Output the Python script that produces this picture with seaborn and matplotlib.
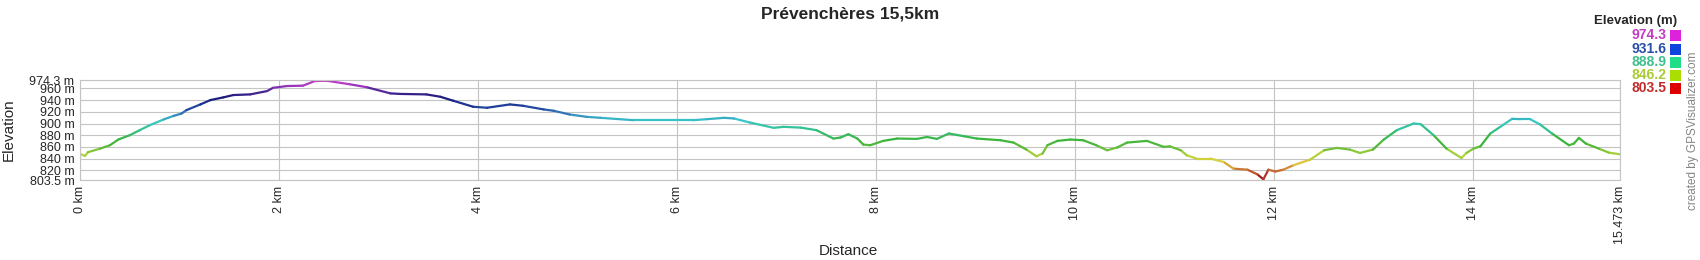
import numpy as np
import pandas as pd
import matplotlib
matplotlib.use("Agg")
import matplotlib.pyplot as plt
from matplotlib.colors import LinearSegmentedColormap
from matplotlib.patches import Rectangle
import seaborn as sns

# ---- data ----
distance_km = [0.00, 0.05, 0.08, 0.20, 0.30, 0.385, 0.50, 0.60, 0.70, 0.84, 0.94, 1.02, 1.07, 1.21,
               1.31, 1.44, 1.54, 1.71, 1.88, 1.94, 2.08, 2.24, 2.36, 2.48, 2.71, 2.88, 3.12, 3.22,
               3.48, 3.62, 3.75, 3.95, 4.09, 4.32, 4.45, 4.66, 4.76, 4.92, 5.09, 5.23, 5.56, 5.90,
               6.16, 6.30, 6.47, 6.57, 6.73, 6.97, 7.07, 7.24, 7.40, 7.57, 7.64, 7.72, 7.81, 7.87,
               7.94, 8.07, 8.21, 8.41, 8.51, 8.61, 8.73, 8.88, 9.01, 9.25, 9.38, 9.51, 9.61, 9.67,
               9.72, 9.82, 9.95, 10.08, 10.21, 10.32, 10.42, 10.52, 10.72, 10.89, 10.95, 11.06,
               11.12, 11.22, 11.36, 11.49, 11.59, 11.73, 11.83, 11.89, 11.94, 12.01, 12.09, 12.19,
               12.36, 12.50, 12.63, 12.76, 12.86, 12.99, 13.10, 13.23, 13.40, 13.47, 13.60, 13.73,
               13.88, 13.93, 14.00, 14.07, 14.17, 14.27, 14.39, 14.47, 14.57, 14.67, 14.79, 14.96,
               15.01, 15.06, 15.13, 15.26, 15.36, 15.473]
elevation_m = [848, 844.6, 851, 857, 862.8, 872.6, 880, 888.6, 897, 906.9, 913, 917, 922.9, 932.6,
               940, 944.6, 948.6, 949.7, 955.4, 961, 964, 964.6, 972.6, 973, 967, 962, 951.4, 950.5,
               949.7, 945.7, 938.9, 928.6, 926.9, 932.6, 930.3, 924, 921.7, 915.4, 911.4, 909.7, 905.7, 905.7,
               905.7, 907.4, 909.7, 908.6, 901.7, 892.6, 894.3, 893, 888.6, 874.3, 876, 881.7, 874.3, 864,
               862.9, 870.3, 874.3, 873.7, 877, 873.7, 882.9, 878.3, 874.3, 871.4, 867.4, 855.4, 844, 848.6,
               862.9, 870.3, 872.6, 871.4, 862.9, 854.3, 858.9, 867.4, 870.3, 860, 861, 854.3,
               845.7, 840, 840, 834.3, 822.9, 821.1, 813.1, 804.6, 821.1, 818, 821.1, 828.6,
               838.3, 854.3, 858.3, 855.4, 849.7, 855.4, 872.6, 888.6, 900, 898.9, 880, 857.1,
               841.1, 849.7, 857.1, 861, 882.9, 894.3, 908, 907.4, 907.4, 898.3, 882.9, 862.9,
               865.7, 875.4, 865.7, 857.1, 850.3, 847.4]

y_ticks = [803.5, 820, 840, 860, 880, 900, 920, 940, 960, 974.3]
y_tick_labels = ["803.5 m", "820 m", "840 m", "860 m", "880 m", "900 m", "920 m", "940 m", "960 m", "974.3 m"]
x_ticks = [0, 2, 4, 6, 8, 10, 12, 14, 15.473]
x_tick_labels = ["0 km", "2 km", "4 km", "6 km", "8 km", "10 km", "12 km", "14 km", "15.473 km"]

legend_values = ["974.3", "931.6", "888.9", "846.2", "803.5"]
legend_text_colors = ["#c23cc2", "#2a4fa8", "#3dbf8e", "#aacb35", "#c02c2c"]
legend_box_colors = ["#dd22dd", "#1144dd", "#22dd88", "#aadd00", "#dd0000"]

title = "Prévenchères 15,5km"

# ---- style ----
sns.set_style("white")
plt.rcParams['font.family'] = ['Liberation Sans', 'DejaVu Sans']

ymin, ymax = 803.5, 974.3
cmap = LinearSegmentedColormap.from_list("elev", [
    ((803.5 - ymin) / (ymax - ymin), "#8b0000"),
    ((812 - ymin) / (ymax - ymin), "#b0302a"),
    ((822 - ymin) / (ymax - ymin), "#cc7a33"),
    ((835 - ymin) / (ymax - ymin), "#e0d040"),
    ((846 - ymin) / (ymax - ymin), "#b5d33a"),
    ((860 - ymin) / (ymax - ymin), "#5cbb3a"),
    ((872 - ymin) / (ymax - ymin), "#3ab53a"),
    ((889 - ymin) / (ymax - ymin), "#33c08a"),
    ((905 - ymin) / (ymax - ymin), "#38c8c8"),
    ((918 - ymin) / (ymax - ymin), "#3377bb"),
    ((930 - ymin) / (ymax - ymin), "#1f3d99"),
    ((945 - ymin) / (ymax - ymin), "#1a1a7a"),
    ((958 - ymin) / (ymax - ymin), "#5a2a9e"),
    ((966 - ymin) / (ymax - ymin), "#a335c0"),
    (1.0, "#cc44cc"),
])

# segments dataframe (one unit per consecutive pair of points)
rows = []
for i in range(len(distance_km) - 1):
    c = (elevation_m[i] + elevation_m[i + 1]) / 2
    rows.append((distance_km[i], elevation_m[i], i, c))
    rows.append((distance_km[i + 1], elevation_m[i + 1], i, c))
df = pd.DataFrame(rows, columns=["dist", "elev", "seg", "c"])

fig = plt.figure(figsize=(17, 2.6), dpi=100)
ax = fig.add_axes([80 / 1700, 1 - 180 / 260, 1540 / 1700, 100 / 260])

sns.lineplot(data=df, x="dist", y="elev", units="seg", hue="c", palette=cmap,
             hue_norm=(ymin, ymax), estimator=None, legend=False, ax=ax,
             linewidth=1.6, solid_capstyle="round", sort=False)

ax.set_xlim(0, 15.473)
ax.set_ylim(ymin, ymax)
ax.set_yticks(y_ticks)
ax.set_yticklabels(y_tick_labels, fontsize=9)
ax.set_xticks(x_ticks)
ax.set_xticklabels(x_tick_labels, fontsize=9, rotation=90)
ax.tick_params(axis="both", length=0, pad=4)
ax.grid(True, color="#c4c4c4", linewidth=0.8)
ax.set_axisbelow(True)
for s in ax.spines.values():
    s.set_color("#c4c4c4")
    s.set_linewidth(0.8)
ax.set_xlabel("")
ax.set_ylabel("Elevation", fontsize=11)
ax.yaxis.set_label_coords(-0.042, 0.5)

fig.text(850 / 1700, 1 - 14 / 260, title, ha="center", va="center",
         fontsize=12.5, fontweight="bold")
fig.text(848 / 1700, 1 - 251 / 260, "Distance", ha="center", va="center", fontsize=11)

# legend
fig.text(1677 / 1700, 1 - 21 / 260, "Elevation (m)", ha="right", va="center",
         fontsize=9.5, fontweight="bold")
leg_y = [35, 49, 62, 75, 88]
for v, tc, bc, yy in zip(legend_values, legend_text_colors, legend_box_colors, leg_y):
    fig.text(1666 / 1700, 1 - yy / 260, v, ha="right", va="center", fontsize=10,
             color=tc, fontweight="bold")
    fig.patches.append(Rectangle((1670 / 1700, 1 - (yy + 5.5) / 260), 11 / 1700, 11 / 260,
                                 transform=fig.transFigure, facecolor=bc, edgecolor="none"))

fig.text(1693 / 1700, 1 - 131 / 260, "created by GPSVisualizer.com", rotation=90,
         ha="center", va="center", fontsize=8.5, color="#858585")

fig.savefig("out.png", dpi=100)
